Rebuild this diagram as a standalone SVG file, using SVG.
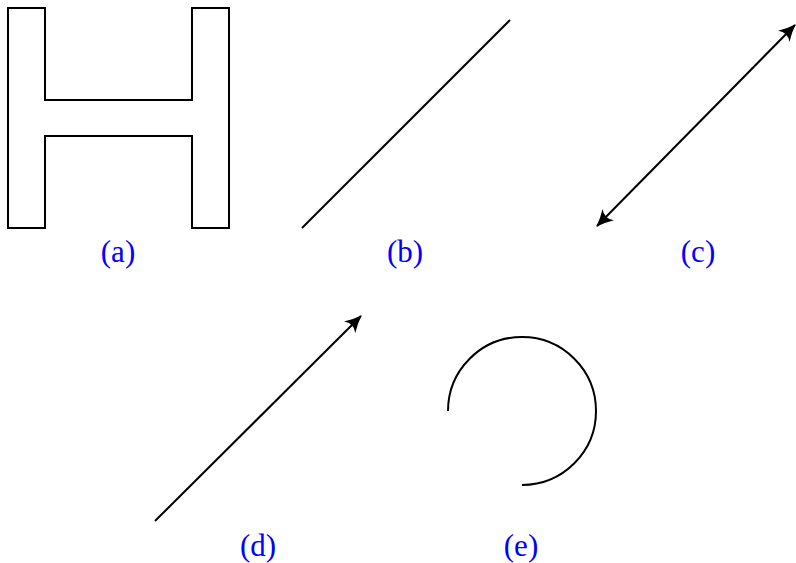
<svg xmlns="http://www.w3.org/2000/svg" width="796" height="563" viewBox="0 0 796 563">
<style>
.s{fill:none;stroke:#000;stroke-width:2;stroke-linejoin:miter}
.l{font-family:"Liberation Serif","Times New Roman",serif;font-size:31px;fill:#0000ff;text-anchor:middle}
</style>
<defs>
<marker id="ah" markerUnits="userSpaceOnUse" viewBox="-18 -10 20 20" refX="0" refY="0" markerWidth="20" markerHeight="20" orient="auto-start-reverse">
<path d="M1,0 Q-8,-3 -16,-8 Q-10,0 -16,8 Q-8,3 1,0 Z" fill="#000"/>
</marker>
</defs>
<g id="a">
<path class="s" d="M8,8 H45 V100 H192 V8 H229 V228 H192 V136 H45 V228 H8 Z"/>
<text class="l" x="118" y="262">(a)</text>
</g>
<g id="b">
<line class="s" x1="302" y1="228" x2="510" y2="20"/>
<text class="l" x="405" y="262">(b)</text>
</g>
<g id="c">
<line class="s" x1="597" y1="226" x2="795" y2="25" marker-start="url(#ah)" marker-end="url(#ah)"/>
<text class="l" x="698" y="262">(c)</text>
</g>
<g id="d">
<line class="s" x1="155" y1="521" x2="361" y2="316" marker-end="url(#ah)"/>
<text class="l" x="258" y="556">(d)</text>
</g>
<g id="e">
<path class="s" d="M448,411 A74,74 0 1 1 522,485"/>
<text class="l" x="521" y="556">(e)</text>
</g>
</svg>
